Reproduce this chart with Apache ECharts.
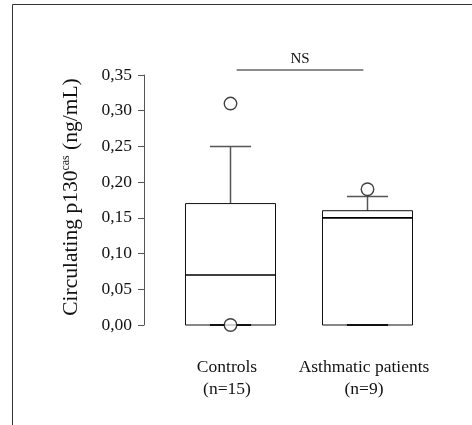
<!DOCTYPE html>
<html>
<head>
<meta charset="utf-8">
<script src="https://cdn.jsdelivr.net/npm/echarts@6/dist/echarts.min.js"></script>
<style>html,body{margin:0;padding:0;background:#fff}#c{width:472px;height:425px}</style>
</head>
<body>
<div id="c"></div>
<script>
const categories = ['Controls\n(n=15)', 'Asthmatic patients\n(n=9)'];
const boxMin = [0.00, 0.00];
const boxQ1 = [0.00, 0.00];
const boxMedian = [0.07, 0.15];
const boxQ3 = [0.17, 0.16];
const boxMax = [0.25, 0.18];
const outlierCat = [0, 0, 1];
const outlierVal = [0.31, 0.00, 0.19];
const yMin = 0, yMax = 0.35, yInterval = 0.05;
const sigLabel = 'NS';
const sigLevel = 0.357;

const FONT = 'Liberation Serif';
const chart = echarts.init(document.getElementById('c'), null, {renderer: 'canvas'});

const boxData = categories.map((c, i) => [i, boxMin[i], boxQ1[i], boxMedian[i], boxQ3[i], boxMax[i]]);
const outData = outlierCat.map((c, i) => [c, outlierVal[i]]);

chart.setOption({
  animation: false,
  backgroundColor: '#fff',
  graphic: [{
    type: 'rect', silent: true,
    shape: {x: 12.5, y: 4.5, width: 480, height: 440},
    style: {fill: 'none', stroke: '#333', lineWidth: 1}
  }],
  grid: {left: 162, width: 274, top: 75, bottom: 100},
  xAxis: {
    type: 'category', data: categories,
    axisLine: {show: false}, axisTick: {show: false},
    axisLabel: {interval: 0, margin: 31, fontFamily: FONT, fontSize: 17.5, color: '#111', lineHeight: 22, padding: [0, 7, 0, 0]}
  },
  yAxis: {
    type: 'value', min: yMin, max: yMax, interval: yInterval, offset: 18,
    splitLine: {show: false},
    axisLine: {show: true, lineStyle: {color: '#555', width: 1}},
    axisTick: {show: true, length: 6, lineStyle: {color: '#555'}},
    axisLabel: {margin: 12, fontFamily: FONT, fontSize: 17.5, color: '#111',
      formatter: v => v.toFixed(2).replace('.', ',')},
    name: '{a|Circulating p130}{s|cas}{a| (ng/mL)}',
    nameLocation: 'middle', nameRotate: 90, nameGap: 61,
    nameTextStyle: {
      padding: [0, 0, 0, 6],
      rich: {
        a: {fontFamily: FONT, fontSize: 21.5, color: '#111'},
        s: {fontFamily: FONT, fontSize: 12, color: '#111', verticalAlign: 'top', padding: [0, 0, 11, 0]}
      }
    }
  },
  series: [
    {
      type: 'custom', data: boxData, clip: false,
      renderItem: function (params, api) {
        const i = api.value(0);
        const band = api.size([1, 0])[0];
        const cx = api.coord([i, 0])[0];
        const bw = band * 0.657, cw = band * 0.30;
        const y = v => api.coord([i, v])[1];
        const yMn = y(api.value(1)), yQ1 = y(api.value(2)), yMd = y(api.value(3)), yQ3 = y(api.value(4)), yMx = y(api.value(5));
        const grey = {stroke: '#555', lineWidth: 1.5, fill: 'none'};
        return {
          type: 'group',
          children: [
            {type: 'line', shape: {x1: cx, y1: yQ3, x2: cx, y2: yMx}, style: grey},
            {type: 'line', shape: {x1: cx - cw / 2, y1: yMx, x2: cx + cw / 2, y2: yMx}, style: grey},
            {type: 'line', shape: {x1: cx, y1: yQ1, x2: cx, y2: yMn}, style: grey},
            {type: 'rect', shape: {x: cx - bw / 2, y: yQ3, width: bw, height: yQ1 - yQ3}, style: {fill: '#fff', stroke: '#111', lineWidth: 1}},
            {type: 'line', shape: {x1: cx - cw / 2, y1: yMn, x2: cx + cw / 2, y2: yMn}, style: {stroke: '#111', lineWidth: 2}},
            {type: 'line', shape: {x1: cx - bw / 2, y1: yMd, x2: cx + bw / 2, y2: yMd}, style: {stroke: '#000', lineWidth: 1.6}}
          ]
        };
      },
      z: 2
    },
    {
      type: 'scatter', data: outData, symbol: 'circle', symbolSize: 12.5,
      itemStyle: {color: '#fff', borderColor: '#111', borderWidth: 1.4}, z: 5
    },
    {
      type: 'custom', data: [[0, 1, sigLevel]], clip: false,
      renderItem: function (params, api) {
        const band = api.size([1, 0])[0];
        const x1 = api.coord([api.value(0), 0])[0] + band * 0.045;
        const x2 = api.coord([api.value(1), 0])[0] - band * 0.03;
        const yy = api.coord([0, api.value(2)])[1];
        return {
          type: 'group',
          children: [
            {type: 'line', shape: {x1: x1, y1: yy, x2: x2, y2: yy}, style: {stroke: '#666', lineWidth: 1.5}},
            {type: 'text', style: {text: sigLabel, x: (x1 + x2) / 2, y: yy - 3, textAlign: 'center', textVerticalAlign: 'bottom', font: '15px "Liberation Serif"', fill: '#111'}}
          ]
        };
      }
    }
  ]
});
</script>
</body>
</html>
